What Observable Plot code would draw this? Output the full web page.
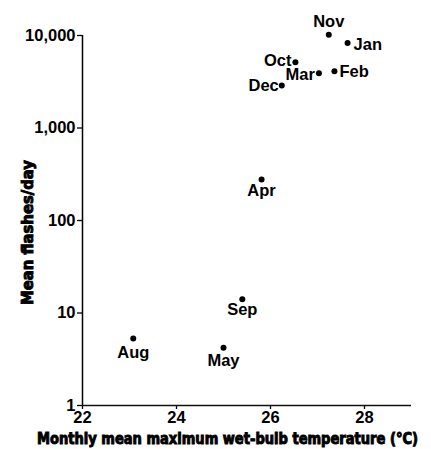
<!DOCTYPE html>
<html>
<head>
<meta charset="utf-8">
<script src="https://cdn.jsdelivr.net/npm/d3@7"></script>
<script src="https://cdn.jsdelivr.net/npm/@observablehq/plot@0.6"></script>
<style>
  html, body { margin: 0; padding: 0; background: #fff; }
  #chart svg { display: block; }
</style>
</head>
<body>
<div id="chart"></div>
<script>
// ---- data ----
const months      = ["Jan", "Feb", "Mar", "Apr", "May", "Aug", "Sep", "Oct", "Nov", "Dec"];
const temperature = [27.64, 27.36, 27.03, 25.81, 25.0, 23.08, 25.4, 26.53, 27.24, 26.24];
const flashes     = [8300, 4100, 3900, 277, 4.2, 5.3, 14.1, 5150, 10200, 2880];
const xTicks = [22, 24, 26, 28];
const yTicks = [1, 10, 100, 1000, 10000];
const xTitle = "Monthly mean maximum wet-bulb temperature (°C)";
const yTitle = "Mean flashes/day";

const data = months.map((m, i) => ({month: m, temp: temperature[i], flashes: flashes[i]}));

// label placement (style only)
const placement = {
  Nov: {anchor: "middle", dx: 0,  dy: -12.5},
  Jan: {anchor: "start",  dx: 6,  dy: 2},
  Feb: {anchor: "start",  dx: 5,  dy: 0},
  Oct: {anchor: "end",    dx: -4, dy: -1},
  Mar: {anchor: "end",    dx: -4, dy: 1},
  Dec: {anchor: "end",    dx: -3, dy: 0},
  Apr: {anchor: "middle", dx: 0,  dy: 11},
  Sep: {anchor: "middle", dx: 0,  dy: 11},
  Aug: {anchor: "middle", dx: 0,  dy: 14},
  May: {anchor: "middle", dx: 0,  dy: 13}
};

const labelFont = {fontFamily: "'Liberation Sans', Arial, sans-serif", fontWeight: "bold", fontSize: 16.5};

const labelMarks = months.map(m => Plot.text(data.filter(d => d.month === m), {
  x: "temp", y: "flashes", text: "month",
  textAnchor: placement[m].anchor, dx: placement[m].dx, dy: placement[m].dy,
  fill: "#000", ...labelFont
}));

const W = 431, H = 449;
const plot = Plot.plot({
  width: W, height: H,
  marginLeft: 82, marginRight: 20, marginTop: 35, marginBottom: 44,
  style: {background: "#fff", color: "#000", fontFamily: "'Liberation Sans', Arial, sans-serif"},
  x: {domain: [22, 29]},
  y: {type: "log", domain: [1, 10000]},
  marks: [
    Plot.axisY({ticks: yTicks, tickFormat: d3.format(","), tickSize: 5, tickPadding: 2,
                label: null, fontSize: 16.5, fontWeight: "bold", strokeWidth: 1.3}),
    Plot.axisX({ticks: xTicks, tickFormat: d3.format("d"), tickSize: 4, tickPadding: 2,
                label: null, fontSize: 16.5, fontWeight: "bold", strokeWidth: 1.3}),
    Plot.ruleX([22], {stroke: "#000", strokeWidth: 1.5}),
    Plot.ruleY([1], {stroke: "#111", strokeWidth: 1.5}),
    Plot.dot(data, {x: "temp", y: "flashes", r: 3, fill: "#000", stroke: "none"}),
    ...labelMarks
  ]
});

document.getElementById("chart").appendChild(plot);

// axis titles
const svg = d3.select(plot);
const titleFont = "'DejaVu Sans Condensed', 'DejaVu Sans', sans-serif";
svg.append("text")
  .attr("x", 37).attr("y", 444)
  .attr("text-anchor", "start")
  .attr("textLength", 381).attr("lengthAdjust", "spacingAndGlyphs")
  .attr("font-family", titleFont).attr("font-weight", "bold").attr("font-size", 15)
  .attr("fill", "#000").attr("stroke", "#000").attr("stroke-width", 0.9)
  .text(xTitle);
svg.append("text")
  .attr("transform", "translate(33,305) rotate(-90)")
  .attr("text-anchor", "start")
  .attr("textLength", 145).attr("lengthAdjust", "spacingAndGlyphs")
  .attr("font-family", titleFont).attr("font-weight", "bold").attr("font-size", 15.5)
  .attr("fill", "#000").attr("stroke", "#000").attr("stroke-width", 0.9)
  .text(yTitle);
</script>
</body>
</html>
